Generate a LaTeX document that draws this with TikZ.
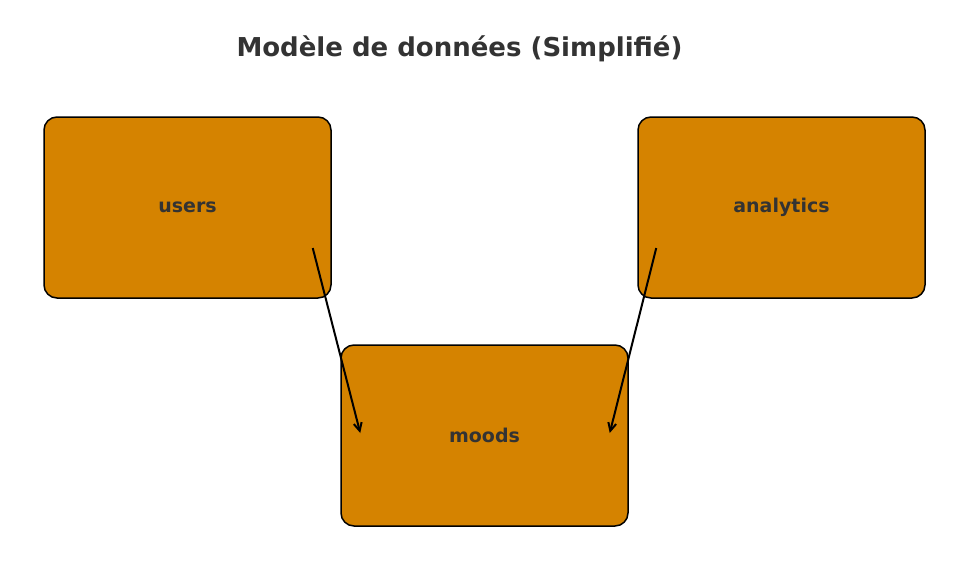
\documentclass[tikz,border=0pt]{standalone}
\usepackage{fontspec}
\setmainfont{DejaVu Sans}
\usetikzlibrary{arrows.meta}

\definecolor{boxfill}{RGB}{213,131,0}
\definecolor{textdark}{RGB}{51,51,51}

\tikzset{
  table/.style={draw=black, line width=1.5pt, fill=boxfill, rounded corners=13pt,
    minimum width=287pt, minimum height=181pt, inner sep=0pt,
    text=textdark, font=\fontsize{19}{21}\selectfont\bfseries},
  link/.style={line width=2pt, -{Straight Barb[length=8pt,width=8pt,line width=2pt]}}
}

\begin{document}
\begin{tikzpicture}[x=1pt,y=-1pt]
  \useasboundingbox (0,0) rectangle (960,573);
  \node[text=textdark, font=\fontsize{26}{28}\selectfont\bfseries] (title) at (459.5,48.5) {Modèle de données (Simplifié)};
  \node[table] (users) at (187.5,207.5) {users};
  \node[table] (analytics) at (781.5,207.5) {analytics};
  \node[table] (moods) at (484.5,435.5) {moods};
  \coordinate (u1) at ([shift={(-19,40.5)}]users.east);
  \coordinate (m1) at ([shift={(20,-2.5)}]moods.west);
  \coordinate (a1) at ([shift={(19,40.5)}]analytics.west);
  \coordinate (m2) at ([shift={(-19,-2.5)}]moods.east);
  \draw[link] (u1) -- (m1);
  \draw[link] (a1) -- (m2);
\end{tikzpicture}
\end{document}
